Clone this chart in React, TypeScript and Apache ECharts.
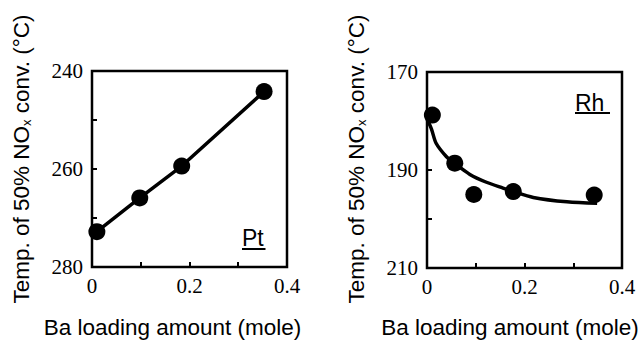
import React, { useEffect, useRef } from "react";
import * as echarts from "echarts";

// ---- Data ----
const xTickLabels = ["0", "0.2", "0.4"];
const ptYTickLabels = [240, 260, 280];
const rhYTickLabels = [170, 190, 210];

// Pt panel
const ptX = [0.01, 0.098, 0.184, 0.353];
const ptY = [272.8, 265.9, 259.4, 244.2];

// Rh panel
const rhX = [0.011, 0.057, 0.096, 0.177, 0.343];
const rhY = [178.8, 188.6, 195.0, 194.4, 195.1];
const rhCurveX = [0, 0.009, 0.019, 0.04, 0.056, 0.088, 0.122, 0.156, 0.177, 0.218, 0.287, 0.349];
const rhCurveY = [179.6, 181.6, 184.6, 187.3, 188.6, 190.9, 192.5, 193.7, 194.4, 195.6, 196.5, 196.8];

const SANS = "Liberation Sans";
const SERIF = "Liberation Serif";

function xAxisCfg(gridIndex: number) {
  return {
    type: "value",
    gridIndex,
    min: 0,
    max: 0.4,
    interval: 0.1,
    axisLine: { show: false },
    axisTick: { show: true, inside: true, length: 5, lineStyle: { color: "#000", width: 2 } },
    splitLine: { show: false },
    axisLabel: {
      margin: 8,
      fontFamily: SERIF,
      fontSize: 21,
      color: "#000",
      formatter: (v: number) => {
        const s = String(Math.round(v * 10) / 10);
        return xTickLabels.includes(s) ? s : "";
      },
    },
  };
}

function yAxisCfg(gridIndex: number, ticks: number[]) {
  return {
    type: "value",
    gridIndex,
    inverse: true,
    min: ticks[0],
    max: ticks[ticks.length - 1],
    interval: 10,
    axisLine: { show: false },
    axisTick: { show: true, inside: true, length: 5, lineStyle: { color: "#000", width: 2 } },
    splitLine: { show: false },
    axisLabel: {
      margin: 9,
      fontFamily: SERIF,
      fontSize: 21,
      color: "#000",
      formatter: (v: number) => (ticks.includes(Math.round(v)) ? String(Math.round(v)) : ""),
    },
  };
}

const yTitleRich = {
  a: { fontSize: 22.5, fontFamily: SANS, fill: "#000" },
  s: { fontSize: 13, fontFamily: SANS, fill: "#000", verticalAlign: "bottom" },
};
const yTitleText = "{a|Temp. of 50% NO}{s|x}{a| conv. (°C)}";

export default function App() {
  const ref = useRef<HTMLDivElement>(null);
  useEffect(() => {
    if (!ref.current) return;
    const chart = echarts.init(ref.current, undefined, { renderer: "svg" });
    const zip = (xs: number[], ys: number[]) => xs.map((x, i) => [x, ys[i]]);
    chart.setOption({
      animation: false,
      backgroundColor: "#fff",
      grid: [
        { left: 92, top: 71, width: 195, height: 196, show: true, borderColor: "#000", borderWidth: 2.5, backgroundColor: "transparent" },
        { left: 427, top: 72, width: 195, height: 196, show: true, borderColor: "#000", borderWidth: 2.5, backgroundColor: "transparent" },
      ],
      xAxis: [xAxisCfg(0), xAxisCfg(1)],
      yAxis: [yAxisCfg(0, ptYTickLabels), yAxisCfg(1, rhYTickLabels)],
      series: [
        {
          type: "line",
          xAxisIndex: 0,
          yAxisIndex: 0,
          data: zip(ptX, ptY),
          showSymbol: false,
          symbol: "none",
          lineStyle: { color: "#000", width: 3.5 },
          z: 2,
        },
        {
          type: "scatter",
          xAxisIndex: 0,
          yAxisIndex: 0,
          data: zip(ptX, ptY),
          symbol: "circle",
          symbolSize: 17,
          itemStyle: { color: "#000", opacity: 1 },
          z: 3,
        },
        {
          type: "line",
          xAxisIndex: 1,
          yAxisIndex: 1,
          data: zip(rhCurveX, rhCurveY),
          smooth: 0.3,
          symbol: "none",
          lineStyle: { color: "#000", width: 3.5 },
          z: 2,
        },
        {
          type: "scatter",
          xAxisIndex: 1,
          yAxisIndex: 1,
          data: zip(rhX, rhY),
          symbol: "circle",
          symbolSize: 17,
          itemStyle: { color: "#000", opacity: 1 },
          z: 3,
        },
      ],
      graphic: [
        {
          type: "text",
          x: 21,
          y: 159,
          rotation: Math.PI / 2,
          style: { text: yTitleText, rich: yTitleRich, align: "center", verticalAlign: "middle", fill: "#000" },
        },
        {
          type: "text",
          x: 356,
          y: 159,
          rotation: Math.PI / 2,
          style: { text: yTitleText, rich: yTitleRich, align: "center", verticalAlign: "middle", fill: "#000" },
        },
        {
          type: "text",
          x: 172.5,
          y: 327.5,
          style: { text: "Ba loading amount (mole)", fontSize: 22.5, fontFamily: SANS, fill: "#000", align: "center", verticalAlign: "middle" },
        },
        {
          type: "text",
          x: 510,
          y: 327.5,
          style: { text: "Ba loading amount (mole)", fontSize: 22.5, fontFamily: SANS, fill: "#000", align: "center", verticalAlign: "middle" },
        },
        {
          type: "text",
          x: 242,
          y: 237.5,
          style: { text: "Pt", fontSize: 23, fontFamily: SANS, fill: "#000", align: "left", verticalAlign: "middle" },
        },
        { type: "line", shape: { x1: 242, y1: 249, x2: 265.5, y2: 249 }, style: { stroke: "#000", lineWidth: 2 } },
        {
          type: "text",
          x: 575,
          y: 103,
          style: { text: "Rh", fontSize: 23, fontFamily: SANS, fill: "#000", align: "left", verticalAlign: "middle" },
        },
        { type: "line", shape: { x1: 575, y1: 113, x2: 610, y2: 113 }, style: { stroke: "#000", lineWidth: 2 } },
      ],
    });
    return () => chart.dispose();
  }, []);
  return (
    <div
      ref={ref}
      style={{ position: "fixed", left: 0, top: 0, width: 642, height: 340, background: "#fff" }}
    />
  );
}
